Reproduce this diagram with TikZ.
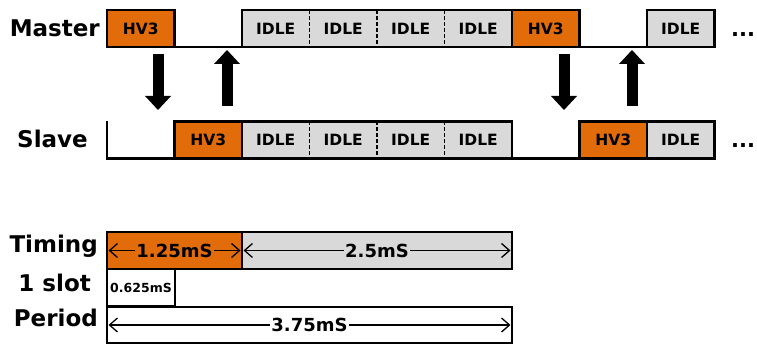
\documentclass[tikz,border=0pt]{standalone}
\usepackage{fontspec}
\setmainfont{DejaVu Sans}
\usetikzlibrary{arrows.meta}
\definecolor{hvorange}{HTML}{E36C0A}
\definecolor{idlegray}{HTML}{D9D9D9}
\begin{document}
\begin{tikzpicture}[x=1pt,y=-1pt,
 rowlabel/.style={anchor=base east,inner sep=0pt,font=\fontsize{23}{27}\selectfont\bfseries},
 slotbox/.style={minimum width=67.5pt,minimum height=37pt,inner sep=0pt,outer sep=0pt,font=\fontsize{15.5}{18}\selectfont\bfseries},
 hvbox/.style={slotbox,fill=hvorange,draw,line width=2.2pt},
 idlebox/.style={slotbox,fill=idlegray},
 gapbox/.style={slotbox},
 edge/.style={line width=2.2pt},
 sep/.style={line width=1.6pt,dash pattern=on 4pt off 2pt},
 blockarrow/.style={line width=11pt,-{Triangle[width=26pt,length=14pt,line width=0pt]}},
 spanarrow/.style={line width=1.3pt,shorten <=1.5pt,shorten >=1.5pt,{Straight Barb[length=8pt,width=14pt]}-{Straight Barb[length=8pt,width=14pt]}},
 spanlabel/.style={inner sep=1.5pt,font=\fontsize{18}{21}\selectfont\bfseries},
 dots/.style={anchor=base west,inner sep=0pt,font=\fontsize{21}{25}\selectfont\bfseries}]
 \useasboundingbox (0,0) rectangle (757,347);
 \node[rowlabel] (master) at (100,37) {Master};
 \node[rowlabel] (slave) at (88,148) {Slave};
 \node[hvbox] (m1) at (140.75,28.5) {HV3};
 \node[gapbox] (m2) at (208.25,28.5) {};
 \node[idlebox] (m3) at (275.75,28.5) {IDLE};
 \node[idlebox] (m4) at (343.25,28.5) {IDLE};
 \node[idlebox] (m5) at (410.75,28.5) {IDLE};
 \node[idlebox] (m6) at (478.25,28.5) {IDLE};
 \node[hvbox] (m7) at (545.75,28.5) {HV3};
 \node[gapbox] (m8) at (613.25,28.5) {};
 \node[idlebox] (m9) at (680.75,28.5) {IDLE};
 \draw[sep] (m3.north east) -- (m3.south east);
 \draw[sep] (m4.north east) -- (m4.south east);
 \draw[sep] (m5.north east) -- (m5.south east);
 \draw[edge] (m3.north west) rectangle (m6.south east);
 \draw[edge] (m9.north west) rectangle (m9.south east);
 \draw[edge] (m1.south east) -- (m3.south west);
 \draw[edge] (m7.south east) -- (m9.south west);
 \node[gapbox] (s1) at (140.75,140) {};
 \node[hvbox] (s2) at (208.25,140) {HV3};
 \node[idlebox] (s3) at (275.75,140) {IDLE};
 \node[idlebox] (s4) at (343.25,140) {IDLE};
 \node[idlebox] (s5) at (410.75,140) {IDLE};
 \node[idlebox] (s6) at (478.25,140) {IDLE};
 \node[gapbox] (s7) at (545.75,140) {};
 \node[hvbox] (s8) at (613.25,140) {HV3};
 \node[idlebox] (s9) at (680.75,140) {IDLE};
 \draw[sep] (s3.north east) -- (s3.south east);
 \draw[sep] (s4.north east) -- (s4.south east);
 \draw[sep] (s5.north east) -- (s5.south east);
 \draw[edge] (s3.north west) rectangle (s6.south east);
 \draw[edge] (s9.north west) rectangle (s9.south east);
 \draw[edge] (s1.north west) -- (s1.south west) -- (s2.south west);
 \draw[edge] (s6.south east) -- (s8.south west);
 \node[dots] (mdots) at (731,37) {...};
 \node[dots] (sdots) at (731,148) {...};
 \coordinate (dn1a) at (158,54);
 \coordinate (dn1b) at (158,110);
 \coordinate (up1a) at (227,106);
 \coordinate (up1b) at (227,50);
 \coordinate (dn2a) at (564,54);
 \coordinate (dn2b) at (564,110);
 \coordinate (up2a) at (632,106);
 \coordinate (up2b) at (632,50);
 \draw[blockarrow] (dn1a) -- (dn1b);
 \draw[blockarrow] (up1a) -- (up1b);
 \draw[blockarrow] (dn2a) -- (dn2b);
 \draw[blockarrow] (up2a) -- (up2b);
 \node[rowlabel] (timing) at (98,252) {Timing};
 \node[rowlabel] (oneslot) at (91,291) {1 slot};
 \node[rowlabel] (period) at (98,326) {Period};
 \node[slotbox,minimum width=270pt,fill=idlegray,draw,line width=2.2pt] (t2) at (377,250.5) {};
 \node[slotbox,minimum width=135pt,fill=hvorange,draw,line width=2.2pt] (t1) at (174.5,250.5) {};
 \node[slotbox,minimum width=405pt,minimum height=36pt,draw,line width=2.2pt] (p1) at (309.5,325) {};
 \node[slotbox,draw,line width=2.2pt,font=\fontsize{12.5}{14}\selectfont\bfseries] (o1) at (141,287.5) {0.625mS};
 \draw[spanarrow] (t1.west) -- (t1.east) node[midway,spanlabel,fill=hvorange] (l1) {1.25mS};
 \draw[spanarrow] (t2.west) -- (t2.east) node[midway,spanlabel,fill=idlegray] (l2) {2.5mS};
 \draw[spanarrow] (p1.west) -- (p1.east) node[midway,spanlabel,fill=white] (l3) {3.75mS};
\end{tikzpicture}
\end{document}
